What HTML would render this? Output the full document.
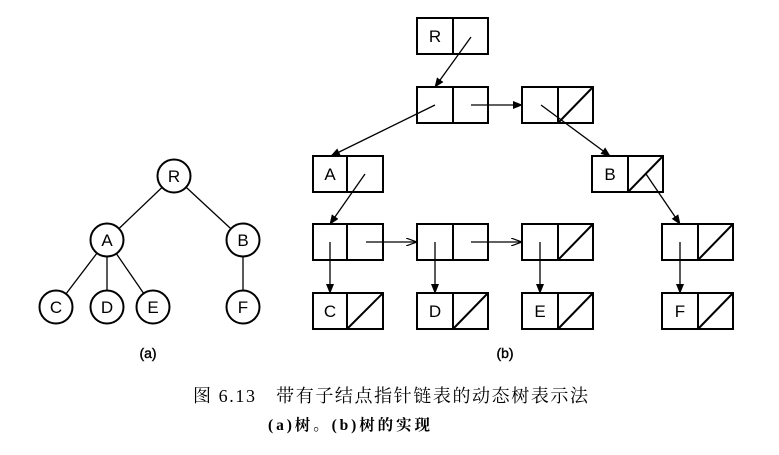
<!DOCTYPE html>
<html><head><meta charset="utf-8"><style>
body{margin:0;background:#fff;width:779px;height:450px;overflow:hidden}
svg text{font-family:"Liberation Sans","DejaVu Sans",sans-serif}
</style></head><body>
<svg width="779" height="450" viewBox="0 0 779 450" xmlns="http://www.w3.org/2000/svg">
<defs>
<marker id="ah" markerWidth="10" markerHeight="8" refX="9" refY="4" orient="auto" markerUnits="userSpaceOnUse">
<path d="M0,0 L10,4 L0,8 Z" fill="#000"/></marker>
<marker id="oh" markerWidth="12" markerHeight="8" refX="11" refY="4" orient="auto" markerUnits="userSpaceOnUse">
<path d="M0,0 L11,4 L0,8" fill="none" stroke="#000" stroke-width="1.2"/></marker>
</defs>
<g stroke="#000" stroke-width="1.3">
<line x1="174" y1="176" x2="107" y2="240"/><line x1="174" y1="176" x2="243" y2="240"/>
<line x1="107" y1="240" x2="56" y2="307"/><line x1="107" y1="240" x2="107" y2="307"/>
<line x1="107" y1="240" x2="153" y2="307"/><line x1="243" y1="240" x2="243" y2="307"/>
</g>
<g stroke="#000" stroke-width="2" fill="#fff">
<circle cx="174" cy="176" r="16.5"/><circle cx="107" cy="240" r="16.5"/><circle cx="243" cy="240" r="16.5"/>
<circle cx="56" cy="307" r="16.5"/><circle cx="107" cy="307" r="16.5"/><circle cx="153" cy="307" r="16.5"/><circle cx="243" cy="307" r="16.5"/>
</g>
<g font-size="17" text-anchor="middle">
<text x="174" y="182">R</text><text x="107" y="246">A</text><text x="243" y="246">B</text>
<text x="56" y="313">C</text><text x="107" y="313">D</text><text x="153" y="313">E</text><text x="243" y="313">F</text>
<text x="148" y="358" font-size="14" stroke="#000" stroke-width="0.4">(a)</text><text x="505" y="358" font-size="14" stroke="#000" stroke-width="0.4">(b)</text>
</g>
<g stroke="#000" stroke-width="2" fill="none">
<rect x="417" y="18" width="71" height="36"/><line x1="453" y1="18" x2="453" y2="54"/>
<rect x="417" y="87" width="71" height="36"/><line x1="453" y1="87" x2="453" y2="123"/>
<rect x="522" y="87" width="71" height="36"/><line x1="558" y1="87" x2="558" y2="123"/><line x1="558" y1="123" x2="593" y2="87"/>
<rect x="313" y="156" width="70" height="36"/><line x1="347" y1="156" x2="347" y2="192"/>
<rect x="592" y="156" width="71" height="36"/><line x1="628" y1="156" x2="628" y2="192"/><line x1="628" y1="192" x2="663" y2="156"/>
<rect x="313" y="224" width="70" height="36"/><line x1="347" y1="224" x2="347" y2="260"/>
<rect x="417" y="224" width="71" height="36"/><line x1="453" y1="224" x2="453" y2="260"/>
<rect x="522" y="224" width="71" height="36"/><line x1="558" y1="224" x2="558" y2="260"/><line x1="558" y1="260" x2="593" y2="224"/>
<rect x="662" y="224" width="71" height="36"/><line x1="698" y1="224" x2="698" y2="260"/><line x1="698" y1="260" x2="733" y2="224"/>
<rect x="313" y="293" width="70" height="36"/><line x1="347" y1="293" x2="347" y2="329"/><line x1="347" y1="329" x2="383" y2="293"/>
<rect x="417" y="293" width="71" height="36"/><line x1="453" y1="293" x2="453" y2="329"/><line x1="453" y1="329" x2="488" y2="293"/>
<rect x="522" y="293" width="71" height="36"/><line x1="558" y1="293" x2="558" y2="329"/><line x1="558" y1="329" x2="593" y2="293"/>
<rect x="662" y="293" width="71" height="36"/><line x1="698" y1="293" x2="698" y2="329"/><line x1="698" y1="329" x2="733" y2="293"/>
</g>
<g font-size="17" text-anchor="middle">
<text x="435" y="42">R</text><text x="330" y="180">A</text><text x="610" y="180">B</text>
<text x="330" y="317">C</text><text x="435" y="317">D</text><text x="540" y="317">E</text><text x="680" y="317">F</text>
</g>
<g stroke="#000" stroke-width="1.3" fill="none">
<line x1="471" y1="37" x2="435" y2="87" marker-end="url(#ah)"/>
<line x1="435" y1="105" x2="331" y2="156" marker-end="url(#ah)"/>
<line x1="471" y1="105" x2="522" y2="105" marker-end="url(#ah)"/>
<line x1="541" y1="105" x2="610" y2="156" marker-end="url(#ah)"/>
<line x1="365" y1="174" x2="330" y2="224" marker-end="url(#ah)"/>
<line x1="646" y1="174" x2="680" y2="224" marker-end="url(#ah)"/>
<line x1="330" y1="242" x2="330" y2="293" marker-end="url(#ah)"/>
<line x1="435" y1="242" x2="435" y2="293" marker-end="url(#ah)"/>
<line x1="540" y1="242" x2="540" y2="293" marker-end="url(#ah)"/>
<line x1="680" y1="242" x2="680" y2="293" marker-end="url(#ah)"/>
<line x1="366" y1="242" x2="417" y2="242" marker-end="url(#oh)"/>
<line x1="471" y1="242" x2="522" y2="242" marker-end="url(#oh)"/>
</g>
<text x="193" y="402" font-size="18" textLength="395" lengthAdjust="spacing" style='font-family:"Liberation Serif","Noto Serif CJK SC",serif'>图 6.13　带有子结点指针链表的动态树表示法</text>
<text x="268" y="430" font-size="15.5" font-weight="bold" textLength="162" lengthAdjust="spacing" style='font-family:"Liberation Serif","Noto Serif CJK SC",serif'>(a)树。(b)树的实现</text>
</svg>
</body></html>
